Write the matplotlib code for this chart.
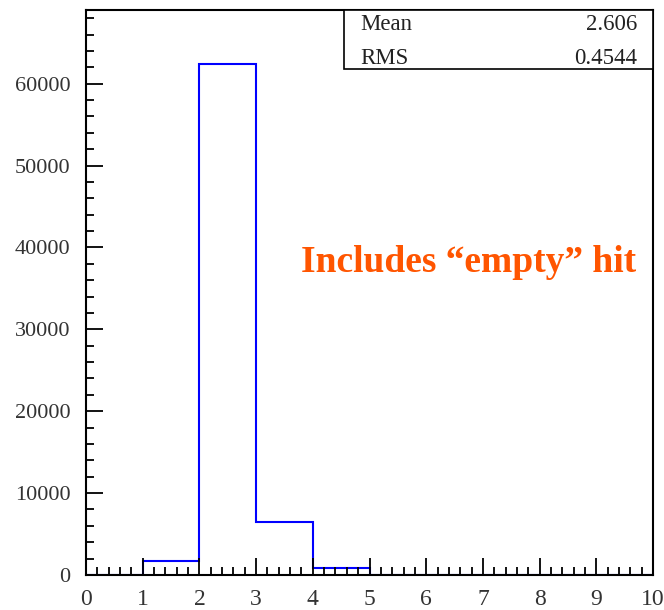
import numpy as np
import matplotlib
matplotlib.use("Agg")
import matplotlib.pyplot as plt
from matplotlib.ticker import MultipleLocator

## histogram data
bin_edges = [0, 1, 2, 3, 4, 5, 6, 7, 8, 9, 10]
counts = [0, 1710, 62350, 6480, 860, 0, 0, 0, 0, 0]
stat_names = ["Mean", "RMS"]
stat_values = ["2.606", "0.4544"]
note = "Includes \u201cempty\u201d hit"

plt.rcParams['font.family'] = ['Liberation Serif', 'DejaVu Serif']

fig = plt.figure(figsize=(6.64, 6.10), dpi=100)
ax = fig.add_axes([86/664, 35/610, 567/664, 565/610])

ax.stairs(counts, bin_edges, color=(0, 0, 1), linewidth=1.5)

ax.set_xlim(0, 10)
ax.set_ylim(0, 69000)

for s in ax.spines.values():
    s.set_linewidth(1.5)

ax.xaxis.set_major_locator(MultipleLocator(1))
ax.xaxis.set_minor_locator(MultipleLocator(0.2))
ax.yaxis.set_major_locator(MultipleLocator(10000))
ax.yaxis.set_minor_locator(MultipleLocator(2000))
ax.tick_params(which='both', direction='in', top=False, right=False, width=1.3, colors='black')
ax.tick_params(which='major', length=12)
ax.tick_params(which='minor', length=6)
ax.tick_params(axis='x', which='major', labelsize=17, pad=10, labelcolor='#333333')
ax.tick_params(axis='y', which='major', labelsize=16, pad=11, labelcolor='#333333')

## stats box in the top right corner
box = plt.Rectangle((344/664, (610-69)/610), 309/664, 59/610, transform=fig.transFigure,
                    fill=True, facecolor='white', edgecolor='black', linewidth=1.2, zorder=5)
fig.patches.append(box)
row_y = [25, 58]
for name, val, y in zip(stat_names, stat_values, row_y):
    fig.text(360/664, (610-y)/610, name, fontsize=16.5, va='center', ha='left', color='#222222', zorder=6)
    fig.text(637/664, (610-y)/610, val, fontsize=16.5, va='center', ha='right', color='#222222', zorder=6)

ax.text(469/664, (610-262)/610, note, transform=fig.transFigure, fontsize=27, fontweight='bold',
        color='#FF5500', ha='center', va='center')

fig.savefig("out.png", dpi=100)
